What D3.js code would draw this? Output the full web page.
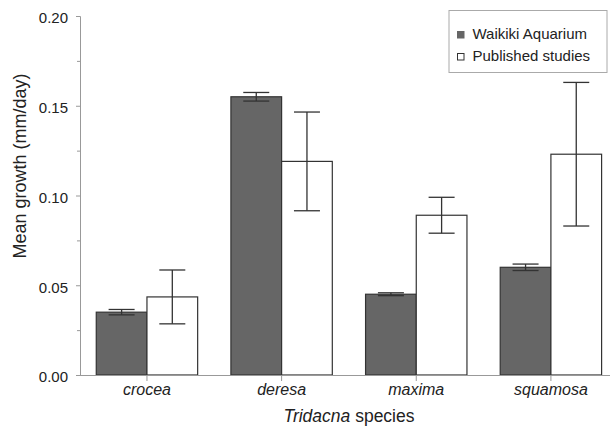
<!DOCTYPE html>
<html>
    <head>
        <title>Tridacna growth</title>
        <script src="https://d3js.org/d3.v7.min.js"></script>
        <style>
            body { margin: 0; background: #fff; }
            text { font-family: "Liberation Sans", Arial, sans-serif; fill: #222; }
        </style>
    </head>
    <body>
        <script>
            const species = ["crocea", "deresa", "maxima", "squamosa"];
            const series = ["Waikiki Aquarium", "Published studies"];
            const aquarium = [0.035, 0.155, 0.045, 0.060];
            const aquariumErr = [0.0015, 0.0024, 0.0008, 0.0018];
            const published = [0.0435, 0.119, 0.089, 0.123];
            const publishedErr = [0.015, 0.0275, 0.010, 0.040];
            const yTicks = [0, 0.05, 0.10, 0.15, 0.20];
            const yMinor = [0.025, 0.075, 0.125, 0.175];

            const width = 612;
            const height = 427;
            const mLeft = 80, mRight = 612, mTop = 16, mBottom = 375;

            const svg = d3.select("body")
                .append("svg")
                .attr("width", width)
                .attr("height", height);

            const x = d3.scaleBand()
                .domain(species)
                .range([mLeft, mRight])
                .paddingInner(0.247)
                .paddingOuter(0.099)
                .align(0.61);

            const xSub = d3.scaleBand()
                .domain(series)
                .range([0, x.bandwidth()]);

            const y = d3.scaleLinear()
                .domain([0, 0.2])
                .range([mBottom, mTop]);

            const colors = ["#666666", "#ffffff"];

            const rows = species.map((s, i) => ({
                species: s,
                values: [
                    {key: series[0], v: aquarium[i], e: aquariumErr[i]},
                    {key: series[1], v: published[i], e: publishedErr[i]}
                ]
            }));

            // axes
            const yAxis = svg.append("g")
                .attr("transform", `translate(${mLeft},0)`)
                .call(d3.axisLeft(y).tickValues(yTicks).tickFormat(d3.format(".2f")).tickSize(4).tickPadding(8));
            yAxis.selectAll("line, path").attr("stroke", "#999");
            yAxis.selectAll("text")
                .style("font-size", "15px")
                .attr("dy", "0.45em")
                .attr("fill", "#222");

            svg.append("g")
                .attr("transform", `translate(${mLeft},0)`)
                .call(d3.axisLeft(y).tickValues(yMinor).tickFormat("").tickSize(3))
                .call(g => g.select(".domain").remove())
                .selectAll("line").attr("stroke", "#999");

            const groups = svg.append("g").selectAll("g")
                .data(rows)
                .enter()
                .append("g")
                .attr("transform", d => `translate(${x(d.species)},0)`);

            groups.selectAll("rect")
                .data(d => d.values)
                .enter()
                .append("rect")
                .attr("x", d => xSub(d.key))
                .attr("y", d => y(d.v))
                .attr("width", xSub.bandwidth())
                .attr("height", d => y(0) - y(d.v))
                .attr("fill", (d, i) => colors[i])
                .attr("stroke", "#333")
                .attr("stroke-width", 1.2);

            const capW = 26;
            const err = groups.selectAll("g.err")
                .data(d => d.values)
                .enter()
                .append("g")
                .attr("class", "err")
                .attr("stroke", "#333")
                .attr("stroke-width", 1.3);
            err.append("line")
                .attr("x1", d => xSub(d.key) + xSub.bandwidth() / 2)
                .attr("x2", d => xSub(d.key) + xSub.bandwidth() / 2)
                .attr("y1", d => y(d.v + d.e))
                .attr("y2", d => y(d.v - d.e));
            err.append("line")
                .attr("x1", d => xSub(d.key) + xSub.bandwidth() / 2 - capW / 2)
                .attr("x2", d => xSub(d.key) + xSub.bandwidth() / 2 + capW / 2)
                .attr("y1", d => y(d.v + d.e))
                .attr("y2", d => y(d.v + d.e));
            err.append("line")
                .attr("x1", d => xSub(d.key) + xSub.bandwidth() / 2 - capW / 2)
                .attr("x2", d => xSub(d.key) + xSub.bandwidth() / 2 + capW / 2)
                .attr("y1", d => y(d.v - d.e))
                .attr("y2", d => y(d.v - d.e));

            const xAxis = svg.append("g")
                .attr("transform", `translate(0,${mBottom})`)
                .call(d3.axisBottom(x).tickSize(6).tickPadding(3).tickSizeOuter(0));
            xAxis.select(".domain").attr("stroke", "#999").attr("d", `M${mLeft},0.5H${width - 2}`);
            xAxis.selectAll("line").attr("stroke", "#999");
            xAxis.selectAll("text")
                .style("font-size", "16px")
                .style("font-style", "italic")
                .attr("fill", "#222");

            // titles
            svg.append("text")
                .attr("transform", `translate(26,166) rotate(-90)`)
                .attr("text-anchor", "middle")
                .style("font-size", "18px")
                .text("Mean growth (mm/day)");

            const xt = svg.append("text")
                .attr("x", 349)
                .attr("y", 421.5)
                .attr("text-anchor", "middle")
                .style("font-size", "17.5px");
            xt.append("tspan").style("font-style", "italic").text("Tridacna");
            xt.append("tspan").text(" species");

            // legend
            const legend = svg.append("g").attr("transform", "translate(449,10.5)");
            legend.append("rect")
                .attr("width", 158)
                .attr("height", 62)
                .attr("fill", "#fff")
                .attr("stroke", "#aaa");
            const items = legend.selectAll("g.item")
                .data(series)
                .enter()
                .append("g")
                .attr("class", "item")
                .attr("transform", (d, i) => `translate(8.5,${28 + i * 22})`);
            items.append("rect")
                .attr("y", -7)
                .attr("width", 6.5)
                .attr("height", 6.5)
                .attr("fill", (d, i) => i === 0 ? "#666" : "#fff")
                .attr("stroke", (d, i) => i === 0 ? "#666" : "#333");
            items.append("text")
                .attr("x", 15)
                .attr("y", 0)
                .style("font-size", "15px")
                .text(d => d);
        </script>
    </body>
</html>
